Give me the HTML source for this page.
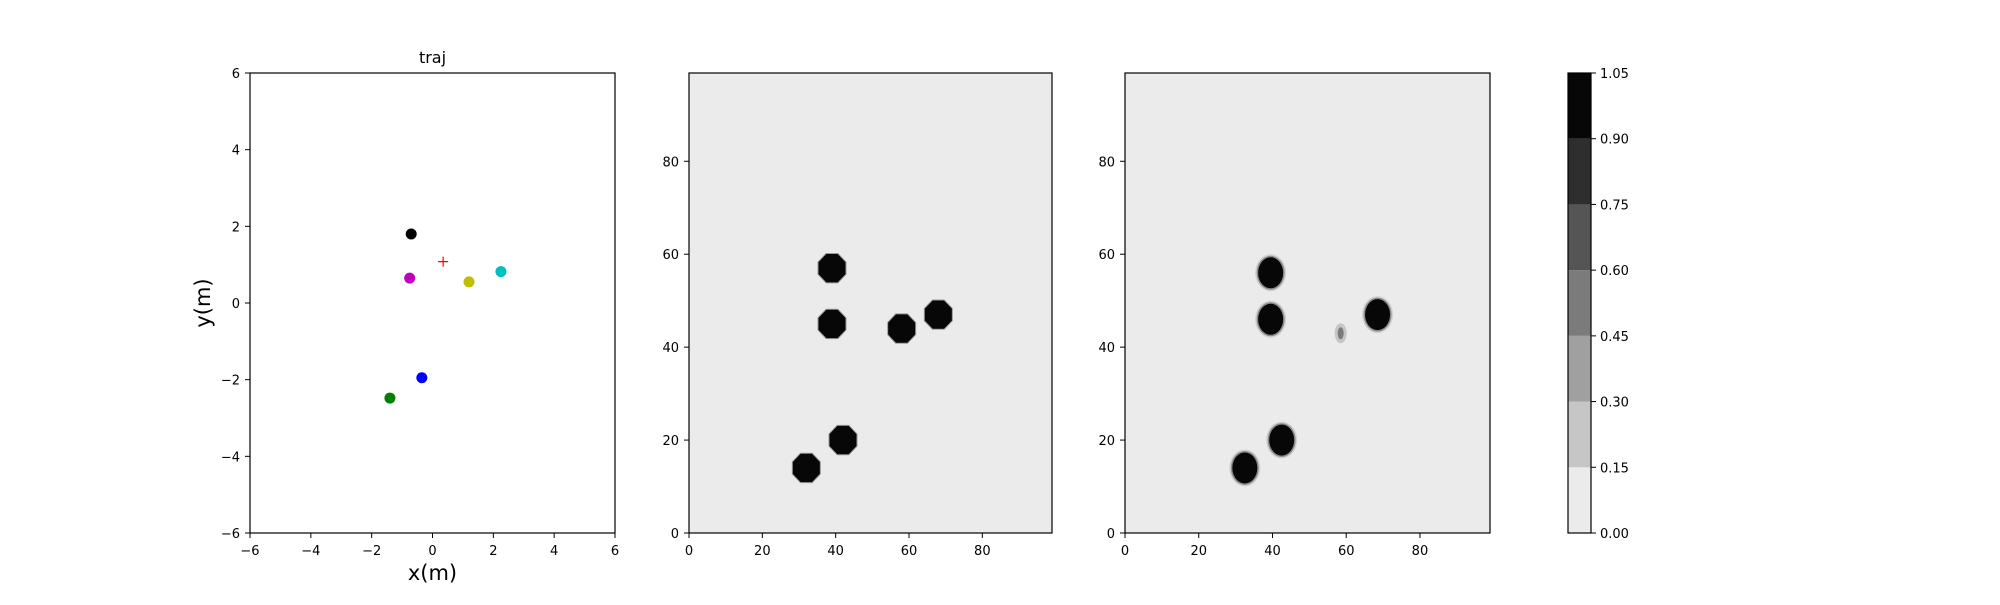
<!DOCTYPE html>
<html><head><meta charset="utf-8"><style>
body{margin:0;background:#fff;}
svg text{font-family:"DejaVu Sans","Liberation Sans",sans-serif;fill:#000;}
</style></head><body>
<svg id="fig" width="2000" height="600" xmlns="http://www.w3.org/2000/svg"></svg>
<script>
const trajNames=['black','magenta','yellow','cyan','blue','green'];
const trajColors=['#000000','#bf00bf','#bfbf00','#00bfbf','#0000ff','#008000'];
const trajX=[-0.7,-0.75,1.2,2.25,-0.35,-1.4];
const trajY=[1.8,0.65,0.55,0.82,-1.95,-2.48];
const targetX=[0.35];
const targetY=[1.08];
const trajTicks=[-6,-4,-2,0,2,4,6];
const gridTicks=[0,20,40,60,80];
const blobs2X=[39,39,58,68,42,32];
const blobs2Y=[57,45,44,47,20,14];
const blobs3X=[39.5,39.5,68.5,42.5,32.5];
const blobs3Y=[56,46,47,20,14];
const faintX=[58.5];
const faintY=[43];
const cbLevels=[0,0.15,0.30,0.45,0.60,0.75,0.90,1.05];
const cbColors=['#ebebeb','#c6c6c6','#a0a0a0','#7b7b7b','#555555','#2e2e2e','#070707'];

const NS='http://www.w3.org/2000/svg';
const svg=document.getElementById('fig');
function el(tag,attrs,parent){const e=document.createElementNS(NS,tag);for(const k in attrs)e.setAttribute(k,attrs[k]);(parent||svg).appendChild(e);return e;}
function txt(s,x,y,size,anchor,parent){const t=el('text',{x:x,y:y,'font-size':size,'text-anchor':anchor||'middle'},parent);t.textContent=s;return t;}

const yTop=73,yBot=533;
function axes(name,L,R,xmin,xmax,ymin,ymax,xt,yt,bg){
  const g=el('g',{});
  
  
  const sx=v=>L+(v-xmin)/(xmax-xmin)*(R-L);
  const sy=v=>yBot-(v-ymin)/(ymax-ymin)*(yBot-yTop);
  el('rect',{x:L,y:yTop,width:R-L,height:yBot-yTop,fill:bg},g);
  return {g,sx,sy,L,R,xt,yt};
}
function frame(a){
  el('rect',{x:a.L,y:yTop,width:a.R-a.L,height:yBot-yTop,fill:'none',stroke:'#000','stroke-width':1.2},a.g);
  a.xt.forEach(v=>{const x=a.sx(v);el('line',{x1:x,y1:yBot,x2:x,y2:yBot+5,stroke:'#000'},a.g);
    const t=txt(String(v).replace('-','\u2212'),x,yBot+22,13,'middle',a.g);
    
    });
  a.yt.forEach(v=>{const y=a.sy(v);el('line',{x1:a.L-5,y1:y,x2:a.L,y2:y,stroke:'#000'},a.g);
    const t=txt(String(v).replace('-','\u2212'),a.L-10,y+5,13,'end',a.g);
    
    });
}

// Panel 1
const a1=axes('traj-panel',250,615,-6,6,-6,6,trajTicks,trajTicks,'#fff');
trajX.forEach((x,i)=>{const c=el('circle',{cx:a1.sx(x),cy:a1.sy(trajY[i]),r:5.5,fill:trajColors[i]},a1.g);
  
  });
targetX.forEach((x,i)=>{const px=a1.sx(x),py=a1.sy(targetY[i]);
  const p=el('path',{d:`M${px-5},${py}H${px+5}M${px},${py-5}V${py+5}`,stroke:'#ff0000','stroke-width':1.2},a1.g);
  
  });
frame(a1);
const t1=txt('traj',432.5,63,16,'middle');


const xl=txt('x(m)',432.5,580,21,'middle');


const yl=txt('y(m)',0,0,21,'middle');
yl.setAttribute('transform','translate(210,303) rotate(-90)');



// Panel 2
const a2=axes('map-panel-1',689,1052,0,99,0,99,gridTicks,gridTicks,'#ebebeb');
blobs2X.forEach((x,i)=>{const px=a2.sx(x),py=a2.sy(blobs2Y[i]);const r=13.5,k=0.42*r;
  const pts=[[-k,-r],[k,-r],[r,-k],[r,k],[k,r],[-k,r],[-r,k],[-r,-k]].map(p=>(px+p[0])+','+(py+p[1]*1.05)).join(' ');
  el('polygon',{points:pts,fill:'#999',stroke:'#999','stroke-width':2},a2.g);
  const p=el('polygon',{points:pts,fill:'#070707'},a2.g);
  
  });
frame(a2);

// Panel 3
const a3=axes('map-panel-2',1125,1490,0,99,0,99,gridTicks,gridTicks,'#ebebeb');
blobs3X.forEach((x,i)=>{const px=a3.sx(x),py=a3.sy(blobs3Y[i]);
  el('ellipse',{cx:px,cy:py,rx:15.5,ry:18.5,fill:'#d0d0d0'},a3.g);
  el('ellipse',{cx:px,cy:py,rx:14,ry:17,fill:'#8a8a8a'},a3.g);
  const e=el('ellipse',{cx:px,cy:py,rx:12.5,ry:15.5,fill:'#070707'},a3.g);
  
  });
faintX.forEach((x,i)=>{const px=a3.sx(x),py=a3.sy(faintY[i]);
  el('ellipse',{cx:px,cy:py,rx:6,ry:10,fill:'#c6c6c6'},a3.g);
  const e=el('ellipse',{cx:px,cy:py,rx:3,ry:6,fill:'#7b7b7b'},a3.g);
  
  });
frame(a3);

// Colorbar
const cb=el('g',{});


const cbL=1568,cbR=1591;
const cbY=v=>yBot-(v-cbLevels[0])/(cbLevels[cbLevels.length-1]-cbLevels[0])*(yBot-yTop);
cbColors.forEach((c,i)=>{const y1=cbY(cbLevels[i+1]),y0=cbY(cbLevels[i]);
  const r=el('rect',{x:cbL,y:y1,width:cbR-cbL,height:y0-y1,fill:c},cb);
  
  });
el('rect',{x:cbL,y:yTop,width:cbR-cbL,height:yBot-yTop,fill:'none',stroke:'#000','stroke-width':1.2},cb);
cbLevels.forEach(v=>{const y=cbY(v);el('line',{x1:cbR,y1:y,x2:cbR+5,y2:y,stroke:'#000'},cb);
  const t=txt(v.toFixed(2),cbR+9,y+5,13,'start',cb);
  
  });
</script>
</body></html>
